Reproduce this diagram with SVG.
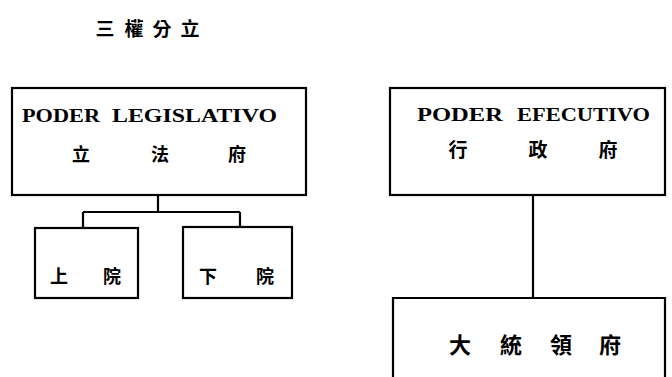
<svg xmlns="http://www.w3.org/2000/svg" width="672" height="377" viewBox="0 0 672 377">
<style>
.box{fill:none;stroke:#000;stroke-width:2.2}
.ln{fill:none;stroke:#000;stroke-width:2.2}
.lat{font-family:"Liberation Serif",serif;font-weight:bold;font-size:19px;fill:#000}
.cjk{font-family:"Noto Sans CJK TC","Noto Sans CJK SC",sans-serif;font-weight:bold;fill:#000;text-anchor:middle}
</style>
<rect width="672" height="377" fill="#fff"/>
<g id="title">
<text class="cjk" font-size="19" x="105" y="36">三</text>
<text class="cjk" font-size="19" x="134" y="36">權</text>
<text class="cjk" font-size="19" x="162" y="36">分</text>
<text class="cjk" font-size="19" x="190" y="36">立</text>
</g>
<g id="connectors">
<path class="ln" d="M158,195 V212 M83,212 H240 M83,212 V228 M240,212 V227"/>
<path class="ln" d="M533,195 V298"/>
</g>
<g id="legislativo">
<rect class="box" x="12" y="88" width="294" height="107"/>
<text class="lat" x="22" y="122" textLength="78" lengthAdjust="spacingAndGlyphs">PODER</text>
<text class="lat" x="112" y="122" textLength="165" lengthAdjust="spacingAndGlyphs">LEGISLATIVO</text>
<text class="cjk" font-size="18" x="81" y="161">立</text>
<text class="cjk" font-size="18" x="160" y="161">法</text>
<text class="cjk" font-size="18" x="237" y="161">府</text>
</g>
<g id="shangyuan">
<rect class="box" x="35" y="228" width="103" height="70"/>
<text class="cjk" font-size="18" x="59" y="283">上</text>
<text class="cjk" font-size="18" x="112" y="283">院</text>
</g>
<g id="xiayuan">
<rect class="box" x="183" y="227" width="109" height="71"/>
<text class="cjk" font-size="18" x="208" y="283">下</text>
<text class="cjk" font-size="18" x="265" y="283">院</text>
</g>
<g id="ejecutivo">
<rect class="box" x="390" y="88" width="275" height="107"/>
<text class="lat" x="417" y="121" textLength="86" lengthAdjust="spacingAndGlyphs">PODER</text>
<text class="lat" x="517" y="121" textLength="133" lengthAdjust="spacingAndGlyphs">EFECUTIVO</text>
<text class="cjk" font-size="19" x="458" y="157">行</text>
<text class="cjk" font-size="19" x="538" y="157">政</text>
<text class="cjk" font-size="19" x="608" y="157">府</text>
</g>
<g id="presidencia">
<path class="box" d="M393,380 V298 H665 V380"/>
<text class="cjk" font-size="22" x="460" y="353">大</text>
<text class="cjk" font-size="22" x="511" y="353">統</text>
<text class="cjk" font-size="22" x="561" y="353">領</text>
<text class="cjk" font-size="22" x="610" y="353">府</text>
</g>
</svg>
